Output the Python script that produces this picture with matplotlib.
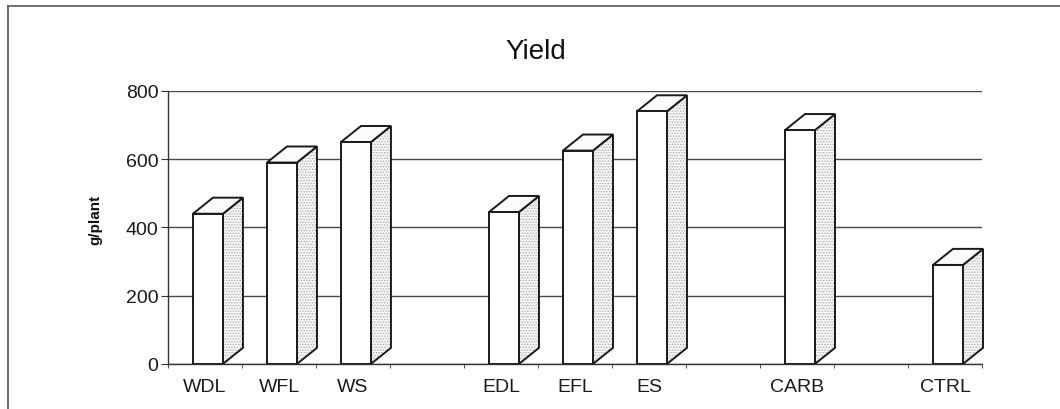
import numpy as np
import matplotlib
matplotlib.use("Agg")
import matplotlib.pyplot as plt
from matplotlib.patches import Polygon
from matplotlib.lines import Line2D

plt.rcParams['font.family'] = ['Liberation Sans', 'DejaVu Sans']
plt.rcParams['hatch.linewidth'] = 0.6

# data (blank names = empty slots between groups)
categories = ["WDL", "WFL", "WS", "", "EDL", "EFL", "ES", "", "CARB", "", "CTRL"]
yield_g = [440, 590, 650, np.nan, 445, 625, 740, np.nan, 685, np.nan, 290]
y_ticks = [0, 200, 400, 600, 800]

fig = plt.figure(figsize=(10.6, 4.1), dpi=100)
ax = fig.add_axes([0.1585, 0.110, 0.768, 0.666])

x = np.arange(len(categories))
ax.set_xlim(-0.5, len(categories) - 0.5)
ax.set_ylim(0, 800)

# front faces
bars = ax.bar(x + 0.04, yield_g, width=0.405, color="white",
              edgecolor="#1a1a1a", linewidth=1.4, zorder=3)

# fake 3d depth (in data units)
dx = 0.27
dy = 47

for b in bars:
    h = b.get_height()
    if np.isnan(h):
        continue
    x0 = b.get_x()
    x1 = x0 + b.get_width()
    side = [(x1, 0), (x1 + dx, dy), (x1 + dx, h + dy), (x1, h)]
    top = [(x0, h), (x0 + dx, h + dy), (x1 + dx, h + dy), (x1, h)]
    # dotted side: hatch in grey, then black outline on top
    ax.add_patch(Polygon(side, closed=True, facecolor="#f6f6f6", edgecolor="#a8a8a8",
                         hatch="......", linewidth=0, zorder=2.5, clip_on=False))
    ax.add_patch(Polygon(side, closed=True, fill=False, edgecolor="#1a1a1a",
                         linewidth=1.4, zorder=2.6, clip_on=False))
    ax.add_patch(Polygon(top, closed=True, facecolor="#fbfbfb", edgecolor="#1a1a1a",
                         linewidth=1.4, zorder=2.6, clip_on=False))

# axes look
ax.set_yticks(y_ticks)
ax.yaxis.grid(True, color="#4a4a4a", linewidth=1.0)
ax.set_axisbelow(True)
for s in ["top", "right"]:
    ax.spines[s].set_visible(False)
ax.spines["left"].set_color("#333333")
ax.spines["bottom"].set_color("#333333")
ax.spines["left"].set_linewidth(1.0)
ax.spines["bottom"].set_linewidth(1.0)

ax.set_xticks(x)
ax.set_xticklabels(categories, fontsize=14, color="#1a1a1a")
ax.set_xticks(np.arange(-0.5, len(categories)), minor=True)
ax.tick_params(axis="x", which="major", length=0, pad=10)
ax.tick_params(axis="x", which="minor", length=3, color="#333333")
ax.tick_params(axis="y", length=5, pad=2, labelsize=14, color="#333333", labelcolor="#1a1a1a")

fig.text(536 / 1060, 1 - 52 / 410, "Yield", ha="center", va="center", fontsize=20, color="#111111")
fig.text(95 / 1060, 1 - 220 / 410, "g/plant", rotation=90, ha="center", va="center",
         fontsize=11, fontweight="bold", color="#111111")

# outer frame of the scanned chart
fig.add_artist(Line2D([8 / 1060, 8 / 1060], [0, 1 - 7 / 410], transform=fig.transFigure,
                      color="#555555", linewidth=1.2))
fig.add_artist(Line2D([8 / 1060, 1], [1 - 7 / 410, 1 - 7 / 410], transform=fig.transFigure,
                      color="#555555", linewidth=1.2))

fig.savefig("out.png", dpi=100)
